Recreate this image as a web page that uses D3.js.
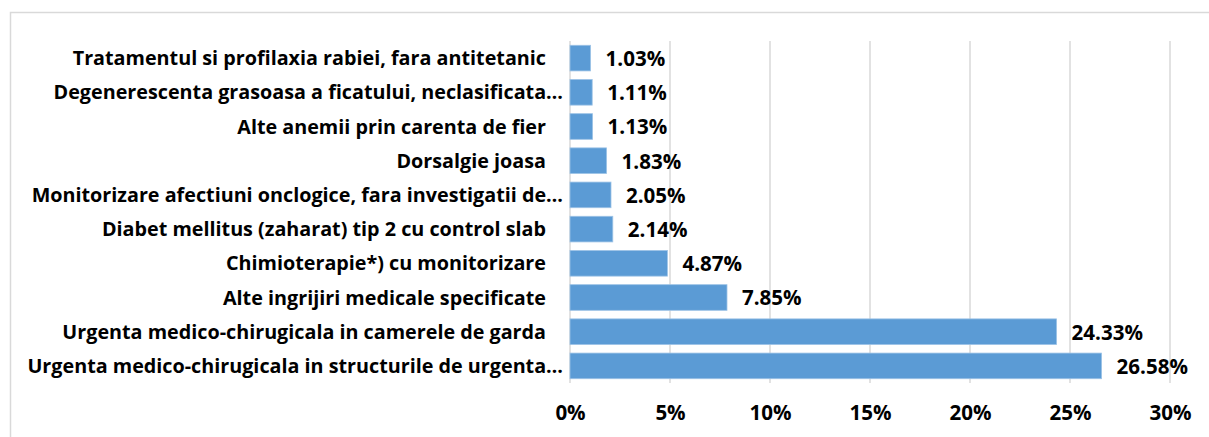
<!DOCTYPE html>
<html>
<head>
<meta charset="utf-8">
<script src="https://cdn.jsdelivr.net/npm/d3@7"></script>
<style>
  html, body { margin: 0; padding: 0; background: #fff; }
  svg { display: block; }
  text { font-family: "Open Sans", Lato, sans-serif; font-weight: bold; fill: #000; }
</style>
</head>
<body>
<svg id="chart" width="1209" height="437"></svg>
<script>
const categories = [
  "Tratamentul si profilaxia rabiei, fara antitetanic",
  "Degenerescenta grasoasa a ficatului, neclasificata…",
  "Alte anemii prin carenta de fier",
  "Dorsalgie joasa",
  "Monitorizare afectiuni onclogice, fara investigatii de…",
  "Diabet mellitus (zaharat) tip 2 cu control slab",
  "Chimioterapie*) cu monitorizare",
  "Alte ingrijiri medicale specificate",
  "Urgenta medico-chirugicala in camerele de garda",
  "Urgenta medico-chirugicala in structurile de urgenta…"
];
const values = [1.03, 1.11, 1.13, 1.83, 2.05, 2.14, 4.87, 7.85, 24.33, 26.58];
const tickValues = [0, 5, 10, 15, 20, 25, 30];
const tickLabels = ["0%", "5%", "10%", "15%", "20%", "25%", "30%"];

const svg = d3.select("#chart");

// chart area border
svg.append("rect")
  .attr("x", 10.5).attr("y", 12.5)
  .attr("width", 1300).attr("height", 600)
  .attr("fill", "none").attr("stroke", "#D9D9D9").attr("stroke-width", 1.5);

const x = d3.scaleLinear().domain([0, 30]).range([570, 1170]);
const y = d3.scaleBand().domain(categories).range([41, 383]).paddingInner(0.25).paddingOuter(0.125);

// fit font size: longest label should span ~536px
const probe = svg.append("text").attr("font-size", 20).text(categories[9]);
const w20 = probe.node().getComputedTextLength();
probe.remove();
const fs = Math.min(21, 20 * 536 / w20);

// gridlines
svg.append("g").selectAll("line").data(tickValues).join("line")
  .attr("x1", d => x(d)).attr("x2", d => x(d))
  .attr("y1", 41).attr("y2", 383)
  .attr("stroke", "#D9D9D9").attr("stroke-width", 1.5);

// bars
svg.append("g").selectAll("rect").data(values).join("rect")
  .attr("x", x(0))
  .attr("y", (d, i) => y(categories[i]))
  .attr("width", d => x(d) - x(0))
  .attr("height", y.bandwidth())
  .attr("fill", "#5B9BD5")
  .attr("stroke", "#9DC3E6").attr("stroke-width", 0.8);

// value labels
svg.append("g").selectAll("text").data(values).join("text")
  .attr("x", d => x(d) + 15)
  .attr("y", (d, i) => y(categories[i]) + y.bandwidth() / 2)
  .attr("dy", "0.38em")
  .attr("font-size", fs * 1.04)
  .text(d => d.toFixed(2) + "%");

// category labels
svg.append("g").selectAll("text").data(categories).join("text")
  .attr("x", d => d.endsWith("…") ? 563 : 546)
  .attr("y", d => y(d) + y.bandwidth() / 2)
  .attr("dy", "0.36em")
  .attr("text-anchor", "end")
  .attr("font-size", fs)
  .text(d => d);

// x axis tick labels
const xAxis = d3.axisBottom(x).tickValues(tickValues).tickFormat((d, i) => tickLabels[i]).tickSize(0).tickPadding(0);
const ax = svg.append("g").attr("transform", "translate(0,405)").call(xAxis);
ax.select(".domain").remove();
ax.selectAll("text")
  .attr("font-size", fs * 1.04)
  .attr("font-family", "'Open Sans', Lato, sans-serif")
  .attr("font-weight", "bold").attr("fill", "#000");
</script>
</body>
</html>
